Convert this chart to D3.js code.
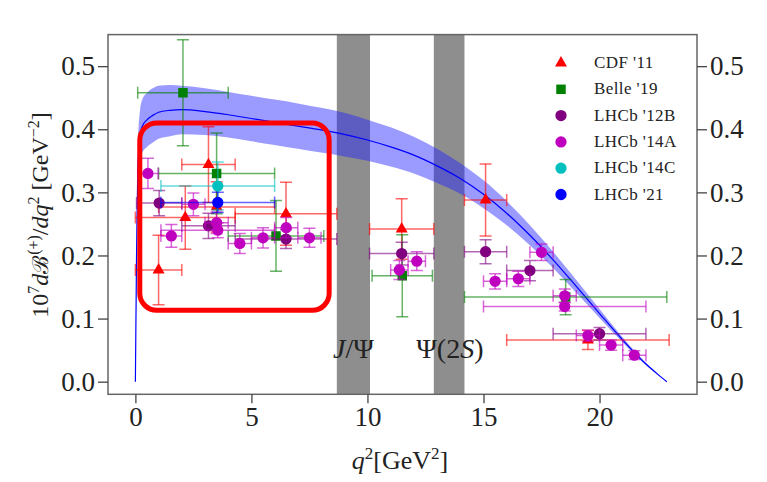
<!DOCTYPE html>
<html>
<head>
<meta charset="utf-8">
<script src="https://cdn.jsdelivr.net/npm/d3@7"></script>
<style>
  html, body { margin: 0; padding: 0; background: #fff; }
  svg { display: block; }
  text { font-family: "Liberation Serif", "DejaVu Serif", serif; fill: #222; }
</style>
</head>
<body>
<svg id="chart" width="767" height="482"></svg>
<script>
// ---- theory prediction: central value and uncertainty band ----
const theoryQ2    = [0, 0.05, 0.1, 0.2, 0.3, 0.5, 0.75, 1, 1.5, 2, 3, 4, 5, 6, 7, 8, 9, 10, 11, 12, 13, 14, 15, 16, 17, 18, 19, 20, 21, 22, 22.5, 22.9];
const theoryMid   = [0, 0.20, 0.33, 0.39, 0.405, 0.415, 0.422, 0.427, 0.430, 0.431, 0.428, 0.423, 0.417, 0.411, 0.405, 0.399, 0.392, 0.383, 0.372, 0.359, 0.342, 0.322, 0.297, 0.267, 0.232, 0.193, 0.151, 0.108, 0.066, 0.028, 0.012, 0.0];
const theoryUpper = [0, 0.22, 0.365, 0.43, 0.447, 0.458, 0.465, 0.469, 0.470, 0.469, 0.465, 0.459, 0.453, 0.447, 0.441, 0.434, 0.426, 0.415, 0.403, 0.388, 0.369, 0.346, 0.319, 0.286, 0.248, 0.206, 0.161, 0.115, 0.070, 0.030, 0.013, 0.0];
const theoryLower = [0, 0.18, 0.295, 0.35, 0.363, 0.372, 0.379, 0.385, 0.389, 0.392, 0.391, 0.387, 0.381, 0.375, 0.369, 0.363, 0.357, 0.350, 0.341, 0.330, 0.315, 0.298, 0.275, 0.248, 0.216, 0.180, 0.141, 0.101, 0.062, 0.026, 0.011, 0.0];

// ---- charmonium veto windows ----
const vetoBins    = [[8.68, 10.11], [12.86, 14.18]];
const vetoLabelQ2 = [9.4, 13.55];

// ---- measurements: q² bins, values and uncertainties ----
const cdfBins   = [[0, 2], [2, 4.3], [4.3, 8.68], [10.09, 12.86], [14.18, 16], [16, 23], [0, 4.3], [1, 6]];
const cdfValues = [0.177, 0.344, 0.266, 0.242, 0.288, 0.066, 0.260, 0.277];
const cdfErrors = [0.055, 0.060, 0.050, 0.048, 0.057, 0.015, 0.050, 0.040];

const belleBins   = [[0.1, 4], [1, 6], [4, 8.12], [10.2, 12.8], [14.18, 22.9]];
const belleValues = [0.458, 0.330, 0.231, 0.168, 0.134];
const belleErrors = [0.084, 0.064, 0.056, 0.065, 0.028];

const lhcb12Bins   = [[0.05, 2], [2, 4.3], [4.3, 8.68], [10.09, 12.86], [14.18, 16], [16, 18], [18, 22]];
const lhcb12Values = [0.283, 0.247, 0.226, 0.203, 0.206, 0.176, 0.076];
const lhcb12Errors = [0.020, 0.020, 0.015, 0.018, 0.019, 0.016, 0.010];

const lhcb14aBins   = [[0.1, 0.98], [1.1, 2], [2, 3], [3, 4], [4, 5], [5, 6], [6, 7], [7, 8], [11, 11.75], [11.75, 12.5], [15, 16], [16, 17], [17, 18], [18, 19], [19, 20], [20, 21], [21, 22], [1.1, 6], [15, 22]];
const lhcb14aValues = [0.330, 0.231, 0.281, 0.252, 0.219, 0.228, 0.244, 0.228, 0.177, 0.191, 0.159, 0.163, 0.205, 0.136, 0.073, 0.058, 0.042, 0.240, 0.119];
const lhcb14aErrors = [0.024, 0.018, 0.018, 0.017, 0.016, 0.016, 0.016, 0.015, 0.015, 0.015, 0.012, 0.012, 0.013, 0.011, 0.009, 0.008, 0.007, 0.012, 0.007];

const lhcb14cBins   = [[1.1, 6]];
const lhcb14cValues = [0.310];
const lhcb14cErrors = [0.038];

const lhcb21Bins   = [[1.1, 6]];
const lhcb21Values = [0.284];
const lhcb21Errors = [0.016];

// ---- axes ----
const xTicks = [0, 5, 10, 15, 20];
const yTicks = [0.0, 0.1, 0.2, 0.3, 0.4, 0.5];

// ---- highlighted low-q² region (data coordinates) ----
const boxQ2 = [0.19, 8.35];
const boxBR = [0.113, 0.41];

const series = [
  { name: "CDF '11",   color: "#ff0000", shape: "triangle", bins: cdfBins,     values: cdfValues,     errors: cdfErrors },
  { name: "Belle '19", color: "#008000", shape: "square",   bins: belleBins,   values: belleValues,   errors: belleErrors },
  { name: "LHCb '12B", color: "#800080", shape: "circle",   bins: lhcb12Bins,  values: lhcb12Values,  errors: lhcb12Errors },
  { name: "LHCb '14A", color: "#bf00bf", shape: "circle",   bins: lhcb14aBins, values: lhcb14aValues, errors: lhcb14aErrors },
  { name: "LHCb '14C", color: "#00bfbf", shape: "circle",   bins: lhcb14cBins, values: lhcb14cValues, errors: lhcb14cErrors },
  { name: "LHCb '21",  color: "#0000ff", shape: "circle",   bins: lhcb21Bins,  values: lhcb21Values,  errors: lhcb21Errors }
];

const svg = d3.select("#chart");
const plot = { left: 108, right: 697, top: 34.6, bottom: 394.3 };

const x = d3.scaleLinear().domain([-1.18, 24.2]).range([plot.left, plot.right]);
const y = d3.scaleLinear().domain([-0.02, 0.55]).range([plot.bottom, plot.top]);

svg.append("defs").append("clipPath").attr("id", "plotClip")
  .append("rect")
  .attr("x", plot.left).attr("y", plot.top)
  .attr("width", plot.right - plot.left).attr("height", plot.bottom - plot.top);

const g = svg.append("g").attr("clip-path", "url(#plotClip)");

// veto windows
g.selectAll("rect.veto").data(vetoBins).join("rect")
  .attr("class", "veto")
  .attr("x", d => x(d[0]))
  .attr("width", d => x(d[1]) - x(d[0]))
  .attr("y", plot.top)
  .attr("height", plot.bottom - plot.top)
  .attr("fill", "#8e8e8e");

// theory band and central curve
const theory = theoryQ2.map((q, i) => ({ q, mid: theoryMid[i], lo: theoryLower[i], hi: theoryUpper[i] }));
g.append("path").datum(theory)
  .attr("d", d3.area().curve(d3.curveMonotoneX).x(d => x(d.q)).y0(d => y(d.lo)).y1(d => y(d.hi)))
  .attr("fill", "#2020ff").attr("fill-opacity", 0.45);
g.append("path").datum(theory)
  .attr("d", d3.line().curve(d3.curveMonotoneX).x(d => x(d.q)).y(d => y(d.mid)))
  .attr("fill", "none").attr("stroke", "#0000ff").attr("stroke-width", 1.2);

// marker shapes
const symbolFor = {
  triangle: d3.symbol().type(d3.symbolTriangle).size(62),
  square:   d3.symbol().type(d3.symbolSquare).size(90),
  circle:   d3.symbol().type(d3.symbolCircle).size(100)
};

const cap = 6;
series.forEach(s => {
  const pts = s.bins.map((b, i) => ({ lo: b[0], hi: b[1], q: (b[0] + b[1]) / 2, v: s.values[i], e: s.errors[i] }));
  const eg = g.append("g").attr("stroke", s.color).attr("stroke-opacity", 0.6).attr("stroke-width", 1.5).attr("fill", "none");
  pts.forEach(p => {
    // horizontal bin width
    eg.append("line").attr("x1", x(p.lo)).attr("x2", x(p.hi)).attr("y1", y(p.v)).attr("y2", y(p.v));
    eg.append("line").attr("x1", x(p.lo)).attr("x2", x(p.lo)).attr("y1", y(p.v) - cap).attr("y2", y(p.v) + cap);
    eg.append("line").attr("x1", x(p.hi)).attr("x2", x(p.hi)).attr("y1", y(p.v) - cap).attr("y2", y(p.v) + cap);
    // vertical uncertainty
    eg.append("line").attr("x1", x(p.q)).attr("x2", x(p.q)).attr("y1", y(p.v - p.e)).attr("y2", y(p.v + p.e));
    eg.append("line").attr("x1", x(p.q) - cap).attr("x2", x(p.q) + cap).attr("y1", y(p.v - p.e)).attr("y2", y(p.v - p.e));
    eg.append("line").attr("x1", x(p.q) - cap).attr("x2", x(p.q) + cap).attr("y1", y(p.v + p.e)).attr("y2", y(p.v + p.e));
  });
  g.append("g").selectAll("path").data(pts).join("path")
    .attr("d", symbolFor[s.shape])
    .attr("transform", p => `translate(${x(p.q)},${y(p.v)})`)
    .attr("fill", s.color);
});

// highlighted region
g.append("rect")
  .attr("x", x(boxQ2[0])).attr("y", y(boxBR[1]))
  .attr("width", x(boxQ2[1]) - x(boxQ2[0]))
  .attr("height", y(boxBR[0]) - y(boxBR[1]))
  .attr("rx", 17).attr("ry", 17)
  .attr("fill", "none").attr("stroke", "#ff0000").attr("stroke-width", 5);

// veto labels
const vl = svg.append("g").attr("font-size", 28).attr("text-anchor", "middle");
const jpsi = vl.append("text").attr("x", x(vetoLabelQ2[0])).attr("y", y(0.037));
jpsi.append("tspan").attr("font-style", "italic").text("J");
jpsi.append("tspan").text("/Ψ");
const psi2 = vl.append("text").attr("x", x(vetoLabelQ2[1])).attr("y", y(0.037));
psi2.append("tspan").text("Ψ(2");
psi2.append("tspan").attr("font-style", "italic").text("S");
psi2.append("tspan").text(")");

// frame
svg.append("rect")
  .attr("x", plot.left).attr("y", plot.top)
  .attr("width", plot.right - plot.left).attr("height", plot.bottom - plot.top)
  .attr("fill", "none").attr("stroke", "#666").attr("stroke-width", 1.5);

// axes
function styleAxis(sel) {
  sel.select(".domain").remove();
  sel.selectAll(".tick line").attr("stroke", "#444").attr("stroke-width", 1.3);
  sel.selectAll(".tick text").attr("font-family", "Liberation Serif, serif").attr("font-size", 27).attr("fill", "#222");
}
svg.append("g").attr("transform", `translate(0,${plot.bottom})`)
  .call(d3.axisBottom(x).tickValues(xTicks).tickSize(9).tickPadding(4).tickFormat(d3.format("d")))
  .call(styleAxis);
svg.append("g").attr("transform", `translate(${plot.left},0)`)
  .call(d3.axisLeft(y).tickValues(yTicks).tickSize(10).tickPadding(3).tickFormat(d3.format(".1f")))
  .call(styleAxis);
svg.append("g").attr("transform", `translate(${plot.right},0)`)
  .call(d3.axisRight(y).tickValues(yTicks).tickSize(10).tickPadding(3).tickFormat(d3.format(".1f")))
  .call(styleAxis);

// axis titles
const xt = svg.append("text").attr("x", 400).attr("y", 469).attr("text-anchor", "middle").attr("font-size", 26);
xt.append("tspan").attr("font-style", "italic").text("q");
xt.append("tspan").attr("font-size", 17).attr("dy", -10).text("2");
xt.append("tspan").attr("dy", 10).text("[GeV");
xt.append("tspan").attr("font-size", 17).attr("dy", -10).text("2");
xt.append("tspan").attr("dy", 10).text("]");

const yt = svg.append("text").attr("transform", "translate(48,215) rotate(-90)")
  .attr("text-anchor", "middle").attr("font-size", 24);
yt.append("tspan").text("10");
yt.append("tspan").attr("font-size", 16).attr("dy", -9).text("7");
yt.append("tspan").attr("dy", 9).attr("font-style", "italic").text("d");
yt.append("tspan").attr("font-family", "DejaVu Serif, serif").attr("font-size", 22).text("ℬ");
yt.append("tspan").attr("font-size", 16).attr("dy", -9).attr("dx", 1).text("(+)");
yt.append("tspan").attr("dy", 9).text("/");
yt.append("tspan").attr("font-style", "italic").text("dq");
yt.append("tspan").attr("font-size", 16).attr("dy", -9).text("2");
yt.append("tspan").attr("dy", 9).text(" [GeV");
yt.append("tspan").attr("font-size", 16).attr("dy", -9).text("−2");
yt.append("tspan").attr("dy", 9).text("]");

// legend
const legend = svg.append("g").attr("transform", "translate(561,63)");
const rows = legend.selectAll("g").data(series).join("g")
  .attr("transform", (d, i) => `translate(0,${i * 26.3})`);
rows.append("path")
  .attr("d", d => symbolFor[d.shape]())
  .attr("fill", d => d.color);
rows.append("text").attr("x", 33).attr("y", 5).attr("font-size", 17).attr("letter-spacing", 0.4).text(d => d.name);
</script>
</body>
</html>
